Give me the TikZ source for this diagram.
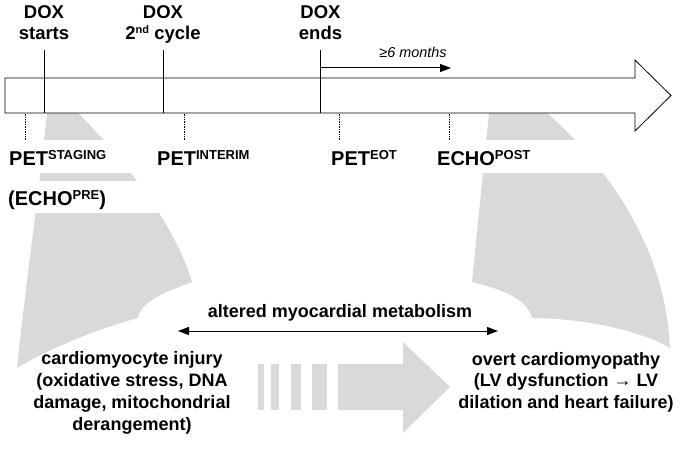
\documentclass[tikz,border=0pt]{standalone}
\usepackage{fontspec}
\setmainfont{Liberation Sans}
\usetikzlibrary{arrows.meta, positioning}

\newcommand{\uptxt}[1]{\raisebox{6pt}{\fontsize{13}{14}\selectfont #1}}

\begin{document}
\begin{tikzpicture}[x=1pt, y=-1pt,
    funnel/.style={fill=gray!30, draw=none},
    doxlabel/.style={font=\fontsize{18.5}{21}\selectfont\bfseries, align=center, inner sep=0pt, anchor=base},
    studylabel/.style={font=\fontsize{20}{22}\selectfont\bfseries, inner sep=0pt, anchor=base west},
    outcome/.style={font=\fontsize{18}{21.7}\selectfont\bfseries, align=center, inner sep=0pt, anchor=base},
    scan/.style={densely dotted, line width=0.7pt},
    cue/.style={line width=0.8pt}
]
    \useasboundingbox (0,0) rectangle (685,452);

    % Gray funnels from the timeline down to the outcomes
    \fill[funnel] (47,113) -- (78,113) .. controls (138,173) and (178,235) .. (192,282)
        .. controls (165,292) and (140,302) .. (138,318)
        .. controls (100,328) and (50,348) .. (17,368)
        .. controls (25,290) and (38,200) .. cycle;
    \fill[funnel] (489,113) -- (547,113) .. controls (600,160) and (665,240) .. (670,348)
        .. controls (640,330) and (580,318) .. (532,318)
        .. controls (528,300) and (505,290) .. (472,282) -- cycle;

    % White bands behind the scan labels
    \fill[white] (0,140) rectangle (685,173);
    \fill[white] (0,181) rectangle (250,213);

    % Scan time points
    \foreach \x in {25,184,339,449}
        \draw[scan] (\x,78) -- (\x,140);

    % Timeline
    \draw[cue, fill=white] (5,78) -- (635,78) -- (635,60) -- (671,95.5) -- (635,131) -- (635,113) -- (5,113) -- cycle;

    % DOX time points
    \coordinate (start) at (44,50);
    \coordinate (cycle) at (163,50);
    \coordinate (ends) at (320.5,50);
    \foreach \p in {start,cycle,ends}
        \draw[cue] (\p) -- (\p |- 0,113);
    \node[doxlabel] (startlbl) at (44,40) {DOX\\starts};
    \node[doxlabel] (cyclelbl) at (163,40) {DOX\\2\uptxt{\fontsize{11}{12}\selectfont nd} cycle};
    \node[doxlabel] (endslbl) at (320.5,40) {DOX\\ends};

    % Follow-up interval
    \coordinate (fustart) at (320.5,68);
    \coordinate (fuend) at (451,68);
    \draw[line width=1pt, -{Triangle[length=11pt, width=8pt]}] (fustart) -- (fuend);
    \node[font=\fontsize{14.4}{16}\selectfont\itshape, anchor=base] (fulbl) at (413,57) {≥6 months};

    % Scan labels
    \node[studylabel] (staging) at (9,165) {PET\uptxt{STAGING}};
    \node[studylabel] (interim) at (157,165) {PET\uptxt{INTERIM}};
    \node[studylabel] (eot) at (331,165) {PET\uptxt{EOT}};
    \node[studylabel] (post) at (437,165) {ECHO\uptxt{POST}};
    \node[studylabel] (pre) at (8,205) {(ECHO\uptxt{PRE})};

    % Striped progression arrow
    \foreach \a/\b in {258/264, 271/279, 291/301, 312/327}
        \fill[funnel] (\a,364) rectangle (\b,410);
    \fill[funnel] (338,364) -- (403,364) -- (403,342) -- (450,387) -- (403,433) -- (403,410) -- (338,410) -- cycle;

    % Metabolism
    \node[outcome] (metab) at (340,317) {altered myocardial metabolism};
    \coordinate (mleft) at (178,331);
    \coordinate (mright) at (498,331);
    \draw[line width=1pt, {Triangle[length=11pt, width=8pt]}-{Triangle[length=11pt, width=8pt]}] (mleft) -- (mright);

    % Outcomes
    \node[outcome] (injury) at (132,430) {cardiomyocyte injury\\(oxidative stress, DNA\\damage, mitochondrial\\derangement)};
    \node[outcome] (overt) at (566,408.4) {overt cardiomyopathy\\(LV dysfunction → LV\\dilation and heart failure)};
\end{tikzpicture}
\end{document}
